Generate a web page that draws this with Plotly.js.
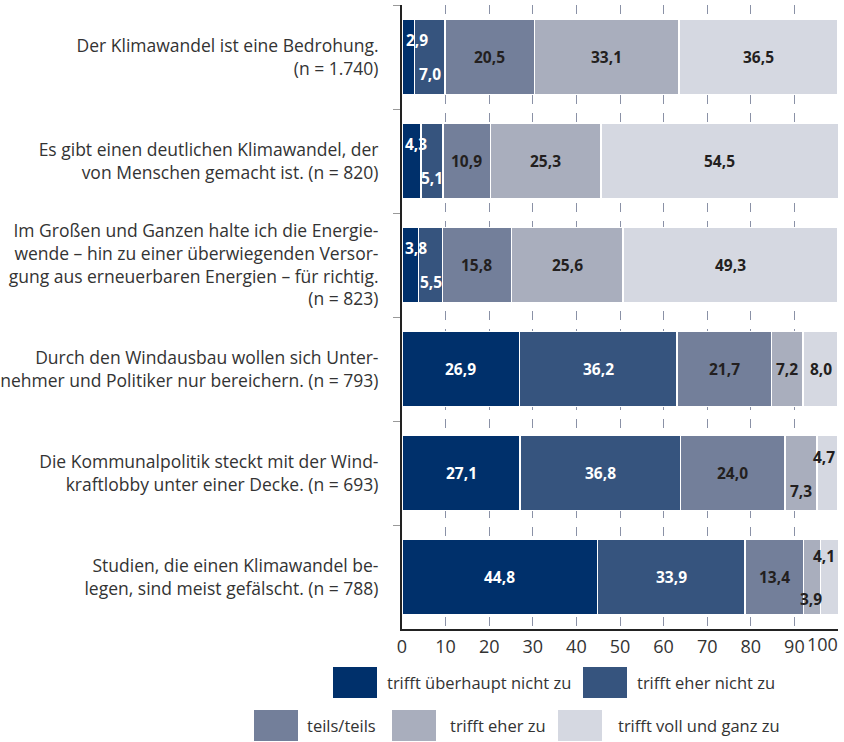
<!DOCTYPE html>
<html>
<head>
<meta charset="utf-8">
<script src="https://cdn.plot.ly/plotly-3.0.1.min.js"></script>
<style>html,body{margin:0;padding:0;background:#fff}</style>
</head>
<body>
<div id="chart" style="width:844px;height:742px"></div>
<script>
const categories = [
  "Der Klimawandel ist eine Bedrohung.<br>(n = 1.740)",
  "Es gibt einen deutlichen Klimawandel, der<br>von Menschen gemacht ist. (n = 820)",
  "Im Großen und Ganzen halte ich die Energie-<br>wende – hin zu einer überwiegenden Versor-<br>gung aus erneuerbaren Energien – für richtig.<br>(n = 823)",
  "Durch den Windausbau wollen sich Unter-<br>nehmer und Politiker nur bereichern. (n = 793)",
  "Die Kommunalpolitik steckt mit der Wind-<br>kraftlobby unter einer Decke. (n = 693)",
  "Studien, die einen Klimawandel be-<br>legen, sind meist gefälscht. (n = 788)"
];
const seriesNames = ["trifft überhaupt nicht zu", "trifft eher nicht zu", "teils/teils", "trifft eher zu", "trifft voll und ganz zu"];
const s1 = [2.9, 4.3, 3.8, 26.9, 27.1, 44.8];
const s2 = [7.0, 5.1, 5.5, 36.2, 36.8, 33.9];
const s3 = [20.5, 10.9, 15.8, 21.7, 24.0, 13.4];
const s4 = [33.1, 25.3, 25.6, 7.2, 7.3, 3.9];
const s5 = [36.5, 54.5, 49.3, 8.0, 4.7, 4.1];
const series = [s1, s2, s3, s4, s5];
const xTicks = [0, 10, 20, 30, 40, 50, 60, 70, 80, 90, 100];

const colors = ["#00306b", "#36547e", "#737f9a", "#a9aebd", "#d5d8e1"];
const labelColors = ["#ffffff", "#ffffff", "#231f20", "#231f20", "#231f20"];
// label shifts [xshift, yshift] in px (yshift positive = up) for crowded segments
const shifts = {
  "0-0": [9, 17], "0-1": [0, -17],
  "1-0": [5, 17], "1-1": [0, -17],
  "2-0": [6, 17], "2-1": [0, -17],
  "4-3": [0, -18], "4-4": [-3, 16],
  "5-3": [-1, -22], "5-4": [-6, 21]
};

const FONT = "Open Sans, sans-serif";
const traces = series.map((vals, i) => ({
  type: "bar", orientation: "h", name: seriesNames[i],
  y: categories, x: vals,
  marker: {color: colors[i], line: {color: "#ffffff", width: 1.5}},
  hoverinfo: "x+name", showlegend: false
}));

const annotations = [];
categories.forEach((c, r) => {
  let cum = 0;
  series.forEach((vals, i) => {
    const v = vals[r];
    const sh = shifts[r + "-" + i] || [0, 0];
    annotations.push({
      x: cum + v / 2, y: c, xref: "x", yref: "y",
      text: "<b>" + v.toFixed(1).replace(".", ",") + "</b>",
      showarrow: false, xshift: sh[0], yshift: sh[1],
      font: {family: FONT, size: 15.5, color: labelColors[i]}
    });
    cum += v;
  });
});

// last x tick label right-aligned at the axis end (as in the original)
annotations.push({xref: "x", yref: "paper", x: 100, y: 0, yshift: -1, xshift: 2,
  xanchor: "right", yanchor: "top", showarrow: false, text: String(xTicks[xTicks.length - 1]),
  font: {family: FONT, size: 18, color: "#333"}});

// legend drawn with shapes + annotations (pixel positions converted to paper)
const L = 402, W = 436, T = 5, H = 624;
const px = x => (x - L) / W;
const py = y => (T + H - y) / H;
const legendItems = [
  {sx: 333, sy: 667, tx: 385},
  {sx: 583, sy: 667, tx: 635},
  {sx: 254, sy: 710, tx: 305},
  {sx: 392, sy: 710, tx: 448},
  {sx: 558, sy: 710, tx: 616}
];
const shapes = [];
legendItems.forEach((it, i) => {
  shapes.push({type: "rect", xref: "paper", yref: "paper",
    x0: px(it.sx), x1: px(it.sx + 44), y0: py(it.sy), y1: py(it.sy + 31),
    fillcolor: colors[i], line: {width: 0}});
  annotations.push({xref: "paper", yref: "paper", x: px(it.tx), y: py(it.sy + 15.5),
    xanchor: "left", yanchor: "middle", showarrow: false, text: seriesNames[i],
    font: {family: FONT, size: 16.5, color: "#333333"}});
});

const layout = {
  width: 844, height: 742,
  margin: {l: L, r: 844 - L - W, t: T, b: 742 - T - H},
  barmode: "stack", bargap: 0.28,
  paper_bgcolor: "#fff", plot_bgcolor: "#fff",
  font: {family: FONT, size: 16, color: "#333333"},
  xaxis: {range: [0, 100], tickvals: xTicks, ticktext: xTicks.map((t, i) => i === xTicks.length - 1 ? "" : String(t)),
    showgrid: true, gridcolor: "#8a91a6", griddash: "dash", gridwidth: 1,
    zeroline: false, showline: true, linecolor: "#222", linewidth: 2,
    ticks: "", tickfont: {family: FONT, size: 18, color: "#333"}, fixedrange: true},
  yaxis: {type: "category", autorange: "reversed", tickson: "boundaries",
    ticks: "outside", ticklen: 7, tickcolor: "#999", tickwidth: 1,
    showline: true, linecolor: "#222", linewidth: 2, showgrid: false,
    ticklabelstandoff: 18,
    tickfont: {family: FONT, size: 17.5, color: "#333"}, fixedrange: true},
  annotations: annotations, shapes: shapes
};

Plotly.newPlot("chart", traces, layout, {displayModeBar: false, staticPlot: true});
</script>
</body>
</html>
